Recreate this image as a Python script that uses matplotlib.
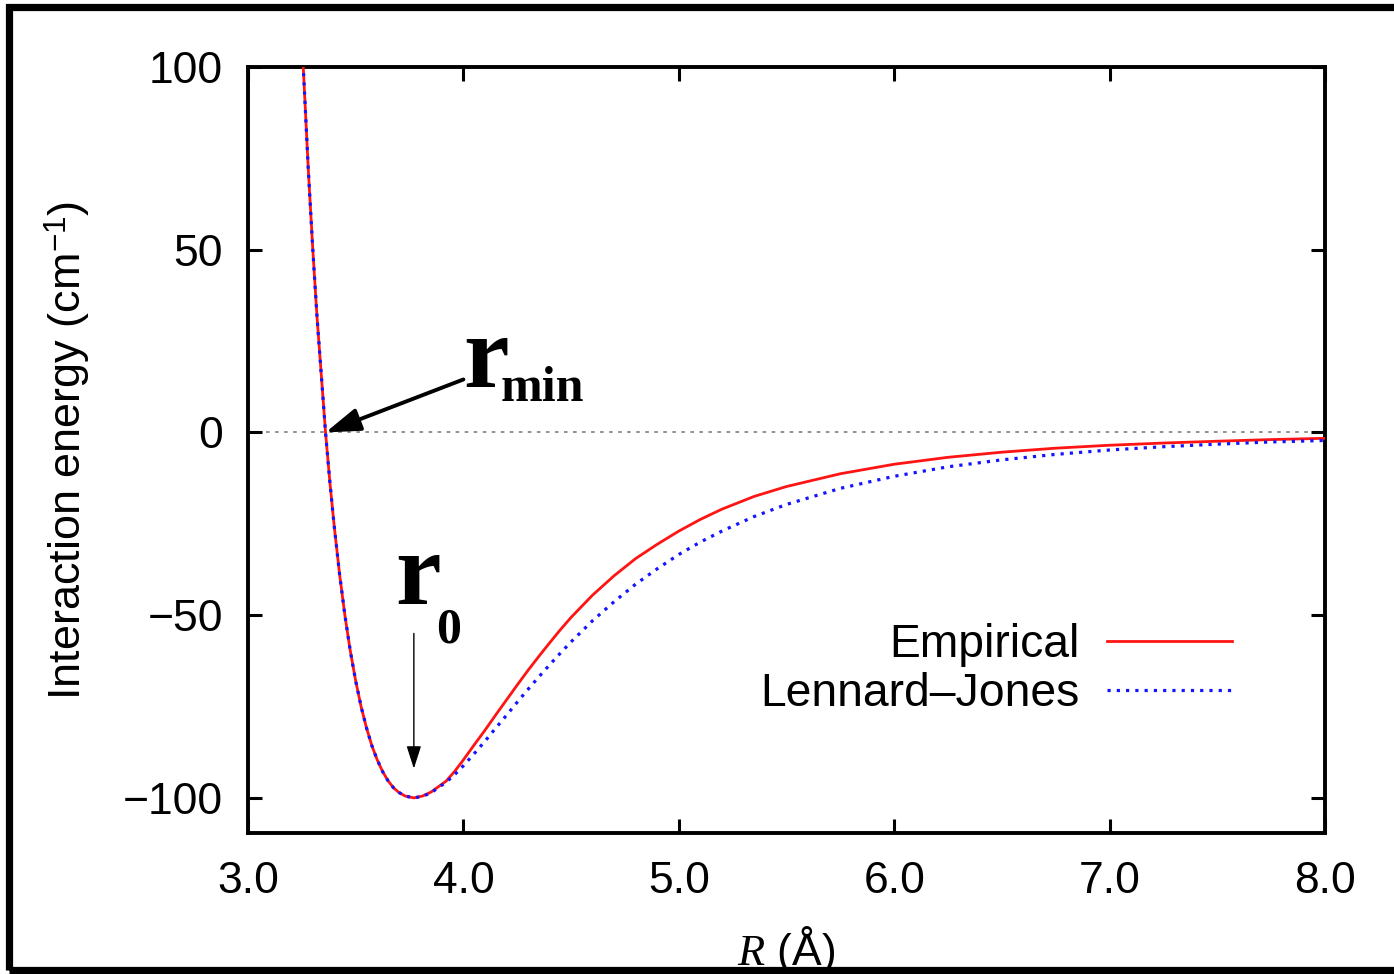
import numpy as np
import matplotlib
matplotlib.use("Agg")
import matplotlib.pyplot as plt
from matplotlib.patches import Rectangle

plt.rcParams['font.family'] = ['Liberation Sans', 'DejaVu Sans']
plt.rcParams['mathtext.fontset'] = 'custom'
plt.rcParams['mathtext.rm'] = 'Liberation Sans'
plt.rcParams['mathtext.it'] = 'Liberation Serif:italic'

# distances (Angstrom) and interaction energies (cm^-1)
r_vals = [3.24, 3.25, 3.28, 3.30, 3.32, 3.36, 3.38, 3.40, 3.425, 3.45, 3.475, 3.50,
          3.525, 3.55, 3.575, 3.60, 3.625, 3.65, 3.675, 3.70, 3.73, 3.77, 3.81, 3.85,
          3.92, 3.96, 4.0, 4.05, 4.1, 4.15, 4.2, 4.25, 4.3, 4.35, 4.4, 4.45, 4.5,
          4.6, 4.7, 4.8, 4.9, 5.0, 5.1, 5.2, 5.35, 5.5, 5.75, 6.0, 6.25, 6.5,
          6.75, 7.0, 7.25, 7.5, 7.75, 8.0]
empirical = [121.3, 108.0, 71.9, 50.9, 32.0, 0.0, -13.5, -25.5, -38.7, -50.1, -59.8, -68.0,
             -75.0, -80.8, -85.7, -89.6, -92.8, -95.3, -97.2, -98.5, -99.5, -100.0, -99.5, -98.4,
             -95.4, -92.7, -89.6, -85.5, -81.5, -77.3, -73.2, -69.1, -65.1, -61.3, -57.6, -54.0, -50.6,
             -44.5, -39.2, -34.5, -30.6, -27.0, -23.8, -21.0, -17.5, -14.8, -11.3, -8.7, -6.8, -5.4,
             -4.3, -3.5, -2.9, -2.4, -1.95, -1.6]
lennard_jones = [121.3, 108.0, 71.9, 50.9, 32.0, 0.0, -13.5, -25.5, -38.7, -50.1, -59.8, -68.0,
                 -75.0, -80.8, -85.7, -89.6, -92.8, -95.3, -97.2, -98.5, -99.5, -100.0, -99.6, -98.6,
                 -95.7, -93.6, -91.2, -87.9, -84.5, -80.9, -77.4, -73.8, -70.3, -66.9, -63.6, -60.4, -57.3,
                 -51.5, -46.3, -41.5, -37.3, -33.4, -30.0, -27.0, -23.0, -19.7, -15.3, -12.0, -9.4, -7.5,
                 -6.0, -4.8, -3.9, -3.2, -2.6, -2.2]

x_ticks = [3.0, 4.0, 5.0, 6.0, 7.0, 8.0]
y_ticks = [-100, -50, 0, 50, 100]

r_min = 3.36
r_0 = 3.77

fig = plt.figure(figsize=(13.94, 9.74), dpi=100)
ax = fig.add_axes([0.1779, 0.1448, 0.7726, 0.7864])

ax.axhline(0, color='#888888', lw=1.3, ls=(0, (2, 3)), zorder=1)
ax.plot(r_vals, empirical, color='#ff1414', lw=2.0, label='Empirical', zorder=3)
ax.plot(r_vals, lennard_jones, color='#1414ff', lw=2.3, ls=(0, (1, 1.9)),
        label='Lennard\u2013Jones', zorder=4)

ax.set_xlim(3.0, 8.0)
ax.set_ylim(-109.6, 100)
ax.set_xticks(x_ticks)
ax.set_xticklabels([f'{v:.1f}' for v in x_ticks])
ax.set_yticks(y_ticks)
ax.set_yticklabels([str(v).replace('-', '\u2212') for v in y_ticks])

ax.tick_params(direction='in', length=10, width=2.2, labelsize=32,
               top=True, right=True)
ax.tick_params(axis='x', pad=20)
ax.tick_params(axis='y', pad=18)
for s in ax.spines.values():
    s.set_linewidth(2.8)

ax.set_xlabel(r'$R$ (Å)', fontsize=32, labelpad=16)
ax.set_ylabel(r'Interaction energy (cm$^{-1}$)', fontsize=32.4, labelpad=22)

leg = ax.legend(loc='lower right', bbox_to_anchor=(0.914, 0.153), frameon=False,
                markerfirst=False, fontsize=33.3, handlelength=2.7, handletextpad=0.6,
                labelspacing=0.1, borderpad=0, borderaxespad=0)

# annotations
ax.annotate('', xy=(r_min, 0), xytext=(4.0, 14.5),
            arrowprops=dict(arrowstyle='-|>,head_length=2.1,head_width=0.7',
                            color='black', lw=2.8, shrinkA=0, shrinkB=0))
ax.text(4.0, 12.5, 'r', fontsize=74, fontweight='bold', family='Liberation Serif',
        ha='left', va='baseline')
ax.text(4.175, 8.5, 'min', fontsize=36, fontweight='bold', family='Liberation Serif',
        ha='left', va='baseline')

ax.annotate('', xy=(r_0, -92), xytext=(r_0, -55),
            arrowprops=dict(arrowstyle='-|>,head_length=1.4,head_width=0.45',
                            color='black', lw=1.0, shrinkA=0, shrinkB=0))
ax.text(3.685, -47, 'r', fontsize=74, fontweight='bold', family='Liberation Serif',
        ha='left', va='baseline')
ax.text(3.875, -57.5, '0', fontsize=36, fontweight='bold', family='Liberation Serif',
        ha='left', va='baseline')

# outer black frame, cut on the right side
fig.patches.append(Rectangle((0.0061, 0.0046), 1.2, 0.9877, transform=fig.transFigure,
                             fill=False, edgecolor='black', lw=5.2, zorder=10))

fig.savefig('out.png', dpi=100)
